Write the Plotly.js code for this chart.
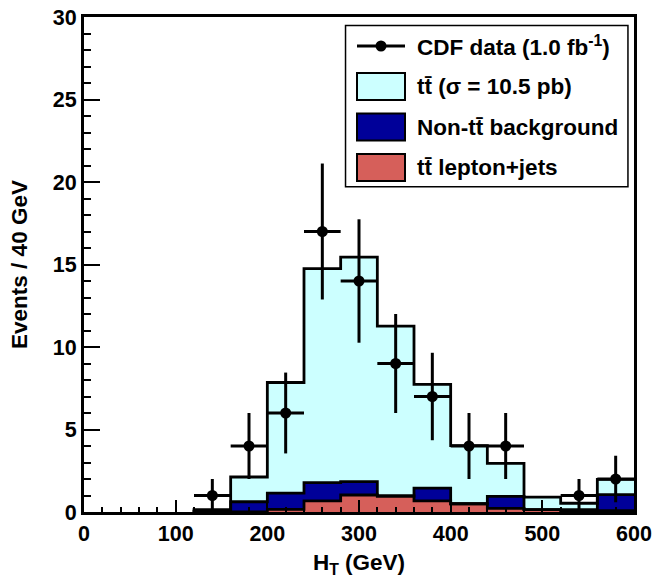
<!DOCTYPE html>
<html><head><meta charset="utf-8">
<script src="https://cdn.plot.ly/plotly-3.0.1.min.js"></script>
<style>html,body{margin:0;padding:0;background:#fff;}</style>
</head><body>
<div id="chart" style="width:654px;height:578px;"></div>
<script>
// Bin centres (GeV), 40 GeV bins from 120 to 600
const binCenters = [140, 180, 220, 260, 300, 340, 380, 420, 460, 500, 540, 580];
const binWidth = 40;
// Stack components (events per bin)
const ttLeptonJets = [0.00, 0.00, 0.16, 0.68, 1.03, 0.97, 0.68, 0.50, 0.22, 0.15, 0.05, 0.08];
const nonTTBackground = [0.03, 0.62, 0.99, 1.10, 0.81, 0.00, 0.77, 0.00, 0.73, 0.00, 0.10, 0.97];
const ttSignal = [0.12, 1.50, 6.70, 12.97, 13.61, 10.30, 6.29, 3.52, 2.00, 0.75, 0.38, 0.93];
// CDF data
const dataCounts = [1, 4, 6, 17, 14, 9, 7, 4, 4, null, 1, 2];
const dataErrors = [1.0, 2.0, 2.45, 4.12, 3.74, 3.0, 2.65, 2.0, 2.0, 0, 1.0, 1.41];

const colCyan = '#ccffff', colBlue = '#000099', colRed = '#d65f5a';
const FONT = 'Liberation Sans, Arial, Helvetica, sans-serif';

function cumulative(...arrs) {
  return arrs[0].map((_, i) => arrs.reduce((s, a) => s + a[i], 0));
}
function stepTrace(vals) {
  const xs = [binCenters[0] - binWidth / 2];
  const ys = [0];
  vals.forEach((v, i) => { xs.push(binCenters[i] - binWidth / 2); ys.push(v); });
  xs.push(binCenters[binCenters.length - 1] + binWidth / 2);
  ys.push(vals[vals.length - 1]);
  return {x: xs, y: ys, type: 'scatter', mode: 'lines', line: {shape: 'hv', color: 'black', width: 2.8},
          hoverinfo: 'skip', showlegend: false};
}

const traces = [
  {x: binCenters, y: ttLeptonJets, type: 'bar', width: binWidth, marker: {color: colRed, line: {width: 0.5, color: colRed}}, showlegend: false},
  {x: binCenters, y: nonTTBackground, type: 'bar', width: binWidth, marker: {color: colBlue, line: {width: 0.5, color: colBlue}}, showlegend: false},
  {x: binCenters, y: ttSignal, type: 'bar', width: binWidth, marker: {color: colCyan, line: {width: 0.5, color: colCyan}}, showlegend: false},
  stepTrace(ttLeptonJets),
  stepTrace(cumulative(ttLeptonJets, nonTTBackground)),
  stepTrace(cumulative(ttLeptonJets, nonTTBackground, ttSignal)),
  {x: binCenters, y: dataCounts, type: 'scatter', mode: 'markers',
   marker: {color: 'black', size: 11},
   error_y: {type: 'data', array: dataErrors, visible: true, color: 'black', thickness: 3, width: 0},
   error_x: {type: 'constant', value: binWidth / 2, visible: true, color: 'black', thickness: 3, width: 0},
   showlegend: false}
];

// Manual legend (paper coordinates)
const L = {x0: 0.4755, x1: 0.989, y0: 0.657, y1: 0.983};
const px = p => (p - 84) / 550;
const py = p => (512 - p) / 495;
const rows = [46, 86.5, 127, 167.5];
const shapes = [
  {type: 'rect', xref: 'paper', yref: 'paper', x0: L.x0, x1: L.x1, y0: L.y0, y1: L.y1,
   line: {color: 'black', width: 1.5}, fillcolor: 'white', layer: 'above'},
  {type: 'line', xref: 'paper', yref: 'paper', x0: px(357), x1: px(405), y0: py(rows[0]), y1: py(rows[0]),
   line: {color: 'black', width: 3}, layer: 'above'},
  {type: 'circle', xref: 'paper', yref: 'paper', xsizemode: 'pixel', ysizemode: 'pixel',
   xanchor: px(381), yanchor: py(rows[0]), x0: -5.5, x1: 5.5, y0: -5.5, y1: 5.5,
   fillcolor: 'black', line: {color: 'black', width: 0}, layer: 'above'}
];
[[rows[1], colCyan], [rows[2], colBlue], [rows[3], colRed]].forEach(([r, c]) => {
  shapes.push({type: 'rect', xref: 'paper', yref: 'paper', x0: px(357), x1: px(405),
    y0: py(r + 13.5), y1: py(r - 13.5), fillcolor: c, line: {color: 'black', width: 2}, layer: 'above'});
});
const labels = ['CDF data (1.0 fb<sup>-1</sup>)', 'tt\u0304 (\u03c3 = 10.5 pb)', 'Non-tt\u0304 background', 'tt\u0304 lepton+jets'];
const annotations = labels.map((t, i) => ({
  text: t, xref: 'paper', yref: 'paper', x: px(415), y: py(rows[i]), xanchor: 'left', yanchor: 'middle',
  showarrow: false, font: {family: FONT, size: 22.5, color: 'black', weight: 'bold'}
}));

const layout = {
  width: 654, height: 578,
  margin: {l: 84, r: 20, t: 17, b: 66},
  paper_bgcolor: 'white', plot_bgcolor: 'white',
  barmode: 'stack', bargap: 0,
  showlegend: false,
  xaxis: {range: [0, 600], showgrid: false, zeroline: false,
    showline: true, linecolor: 'black', linewidth: 3, mirror: true,
    ticks: 'inside', ticklen: 12, tickwidth: 2, tickcolor: 'black', dtick: 100, tick0: 0,
    minor: {ticks: 'inside', dtick: 20, ticklen: 5, tickwidth: 2, tickcolor: 'black'},
    tickfont: {family: FONT, size: 21.5, color: 'black', weight: 'bold'},
    title: {text: 'H<sub>T</sub> (GeV)', font: {family: FONT, size: 22.5, color: 'black', weight: 'bold'}, standoff: 14}},
  yaxis: {range: [0, 30], showgrid: false, zeroline: false,
    showline: true, linecolor: 'black', linewidth: 3, mirror: true,
    ticks: 'inside', ticklen: 16, tickwidth: 2, tickcolor: 'black', dtick: 5, tick0: 0,
    minor: {ticks: 'inside', dtick: 1, ticklen: 7, tickwidth: 2, tickcolor: 'black'},
    tickfont: {family: FONT, size: 21.5, color: 'black', weight: 'bold'},
    title: {text: 'Events / 40 GeV', font: {family: FONT, size: 22.5, color: 'black', weight: 'bold'}, standoff: 19}},
  shapes: shapes,
  annotations: annotations
};

Plotly.newPlot('chart', traces, layout, {displayModeBar: false, staticPlot: true});
</script>
</body></html>
